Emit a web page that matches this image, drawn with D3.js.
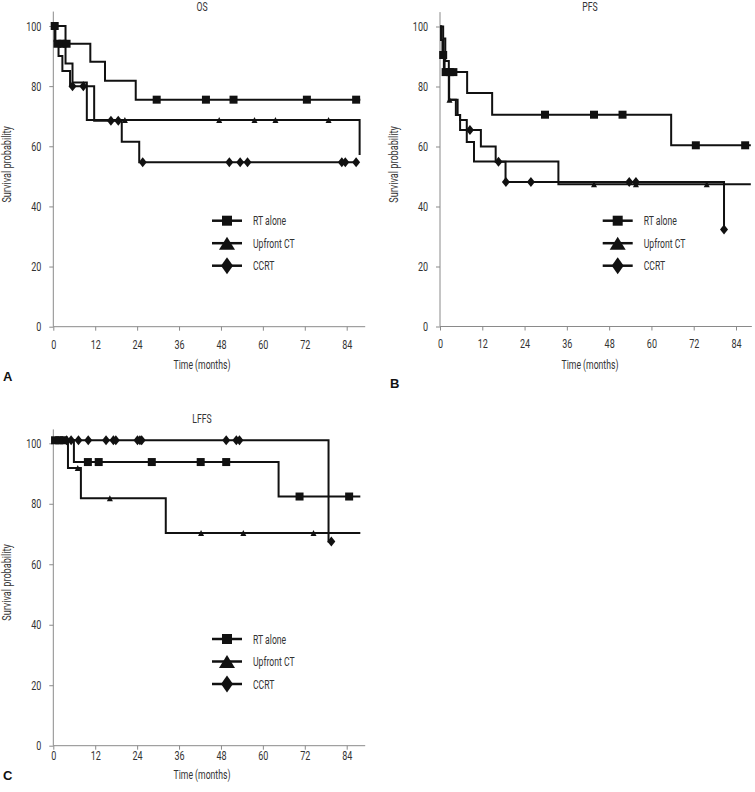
<!DOCTYPE html>
<html>
<head>
<meta charset="utf-8">
<script src="https://cdn.jsdelivr.net/npm/d3@7"></script>
<style>
  body { margin: 0; background: #fff; }
  text { font-family: Roboto, "Liberation Sans", sans-serif; }
</style>
</head>
<body>
<div id="chart"></div>
<script>
// --- data ---
const seriesNames = ["RT alone", "Upfront CT", "CCRT"];
const timeTicks = [0, 12, 24, 36, 48, 60, 72, 84];
const probTicks = [0, 20, 40, 60, 80, 100];

// OS: step points [month, survival %], last month of follow-up, censor times
const osRtSteps = [[0, 100], [0.6, 94.1], [10.6, 88.1], [14.8, 81.8], [23.6, 75.5]];
const osRtEnd = 87.9;
const osRtCensor = [0.4, 1.2, 2.6, 3.8, 29.6, 43.7, 51.6, 72.6, 86.7];
const osCtSteps = [[0, 100], [3.5, 87.5], [5.5, 81.2], [9.6, 68.7], [87.7, 57.1]];
const osCtEnd = 87.7;
const osCtCensor = [20.5, 47.5, 57.6, 63.6, 78.8];
const osCcrtSteps = [[0, 100], [0.4, 95], [1.5, 90], [2.6, 85], [4.8, 80], [11.7, 68.5], [19.6, 61.5], [24.6, 54.7]];
const osCcrtEnd = 86.7;
const osCcrtCensor = [5.5, 8.6, 16.5, 18.6, 25.6, 50.4, 53.5, 55.6, 82.6, 83.6, 86.7];

// PFS
const pfsRtSteps = [[0, 100], [0.4, 95.5], [0.7, 90.5], [1.1, 84.8], [7.7, 77.8], [14.8, 70.6], [65.6, 60.4]];
const pfsRtEnd = 88.2;
const pfsRtCensor = [0.9, 1.6, 2.8, 3.8, 29.8, 43.7, 51.8, 72.6, 86.6];
const pfsCtSteps = [[0, 100], [0.9, 96], [1.5, 88.5], [2.5, 75.6], [4.5, 70.5], [5.7, 68.8], [7.6, 61.5], [9.65, 55], [33.6, 47.4]];
const pfsCtEnd = 88.2;
const pfsCtCensor = [2.7, 43.7, 55.6, 75.7];
const pfsCcrtSteps = [[0, 100], [0.3, 95.5], [1.0, 90.5], [1.3, 84.8], [2.6, 75.6], [5.0, 70.5], [5.7, 65.5], [11.6, 60.0], [15.8, 54.9], [18.6, 48.2], [80.6, 32.3]];
const pfsCcrtEnd = 80.6;
const pfsCcrtCensor = [8.5, 16.6, 18.7, 25.8, 53.7, 55.6, 80.6];

// LFFS
const lffsRtSteps = [[0, 101], [5.9, 93.8], [64.5, 82.4]];
const lffsRtEnd = 87.9;
const lffsRtCensor = [0.5, 1.7, 2.9, 9.9, 13.0, 28.2, 42.2, 49.5, 70.5, 84.7];
const lffsCtSteps = [[0, 101], [4.2, 91.8], [7.9, 81.8], [32.2, 70.3]];
const lffsCtEnd = 87.9;
const lffsCtCensor = [7.0, 16.2, 42.3, 54.4, 74.5];
const lffsCcrtSteps = [[0, 101], [78.8, 67.5]];
const lffsCcrtEnd = 79.6;
const lffsCcrtCensor = [3.8, 5.1, 7.2, 10.0, 15.1, 17.2, 17.9, 24.1, 24.8, 25.3, 49.5, 52.4, 53.3, 79.6];

// --- layout ---
const panels = [
  { title: "OS", letter: "A", x0: 53.3, x84: 346.7, xEnd: 89.3, y0: 326.7, y100: 26, yTop: 104.8,
    legendX: 212, legendY: 220.7, labelX: 7, letterX: 3, letterY: 381, titleY: 11, xTitleOff: 42.5, xPad: 9,
    series: [[osRtSteps, osRtEnd, osRtCensor], [osCtSteps, osCtEnd, osCtCensor], [osCcrtSteps, osCcrtEnd, osCcrtCensor]] },
  { title: "PFS", letter: "B", x0: 440, x84: 736, xEnd: 88.5, y0: 326.5, y100: 26.5, yTop: 104.8,
    legendX: 602.7, legendY: 220.7, labelX: 394, letterX: 390, letterY: 388, titleY: 11, xTitleOff: 42.5, xPad: 9,
    series: [[pfsRtSteps, pfsRtEnd, pfsRtCensor], [pfsCtSteps, pfsCtEnd, pfsCtCensor], [pfsCcrtSteps, pfsCcrtEnd, pfsCcrtCensor]] },
  { title: "LFFS", letter: "C", x0: 53.3, x84: 346.7, xEnd: 89.3, y0: 745.7, y100: 443.3, yTop: 104.6,
    legendX: 212, legendY: 639, labelX: 7, letterX: 3, letterY: 780, titleY: 423, xTitleOff: 33.5, xPad: 1,
    series: [[lffsRtSteps, lffsRtEnd, lffsRtCensor], [lffsCtSteps, lffsCtEnd, lffsCtCensor], [lffsCcrtSteps, lffsCcrtEnd, lffsCcrtCensor]] }
];

const svg = d3.select("#chart").append("svg")
  .attr("width", 755).attr("height", 792);

// squeeze text horizontally to mimic the narrow font of the original
function condense(sel, k) {
  sel.each(function () {
    const w = this.getComputedTextLength();
    d3.select(this).attr("textLength", w * k).attr("lengthAdjust", "spacingAndGlyphs");
  });
}

function marker(g, type, cx, cy, w, h) {
  let d;
  if (type === 0) d = `M${cx - w / 2},${cy - h / 2}h${w}v${h}h${-w}Z`;
  else if (type === 1) d = `M${cx},${cy - h / 2}L${cx + w / 2},${cy + h / 2}L${cx - w / 2},${cy + h / 2}Z`;
  else d = `M${cx},${cy - h / 2}L${cx + w / 2},${cy}L${cx},${cy + h / 2}L${cx - w / 2},${cy}Z`;
  g.append("path").attr("d", d).attr("fill", "#111");
}

function survAt(steps, t) {
  let s = steps[0][1];
  for (const p of steps) if (p[0] <= t) s = p[1];
  return s;
}

panels.forEach(p => {
  const x = d3.scaleLinear().domain([0, 84]).range([p.x0, p.x84]);
  const y = d3.scaleLinear().domain([0, 100]).range([p.y0, p.y100]);
  const g = svg.append("g");

  // axes
  const xAxis = g.append("g").attr("transform", `translate(0,${p.y0})`)
    .call(d3.axisBottom(x).tickValues(timeTicks).tickSize(4).tickSizeOuter(0).tickPadding(p.xPad));
  xAxis.select(".domain").attr("d", `M${x(0)},0H${x(p.xEnd)}`);
  const yAxis = g.append("g").attr("transform", `translate(${p.x0},0)`)
    .call(d3.axisLeft(y).tickValues(probTicks).tickSize(4).tickSizeOuter(0).tickPadding(8));
  yAxis.select(".domain").attr("d", `M0,${y(0)}V${y(p.yTop)}`);
  g.selectAll(".domain, .tick line").attr("stroke", "#8a8a8a");
  const tickText = g.selectAll(".tick text").attr("fill", "#333")
    .style("font-size", "12.5px").style("font-family", "Roboto, sans-serif");
  condense(tickText, 0.72);

  // titles
  const cx = (p.x0 + p.x84) / 2 + 2;
  const t1 = g.append("text").attr("x", cx).attr("y", p.titleY)
    .attr("text-anchor", "middle").attr("font-size", 12).attr("fill", "#333").text(p.title);
  const t2 = g.append("text").attr("x", cx).attr("y", p.y0 + p.xTitleOff)
    .attr("text-anchor", "middle").attr("font-size", 12).attr("fill", "#333").text("Time (months)");
  const t3 = g.append("text").attr("transform", `translate(${p.labelX + 4},${(p.y0 + p.y100) / 2 - 12}) rotate(-90)`)
    .attr("text-anchor", "middle").attr("font-size", 12).attr("fill", "#333").text("Survival probability");
  condense(t1, 0.72);
  condense(t2, 0.72);
  condense(t3, 0.76);
  g.append("text").attr("x", p.letterX).attr("y", p.letterY)
    .attr("font-size", 13).attr("font-weight", "bold").attr("fill", "#111")
    .style("font-family", "'Liberation Sans', Arial, sans-serif").text(p.letter);

  // curves
  const line = d3.line().x(d => x(d[0])).y(d => y(d[1])).curve(d3.curveStepAfter);
  p.series.forEach(([steps, end]) => {
    const pts = steps.concat([[end, steps[steps.length - 1][1]]]);
    g.append("path").attr("d", line(pts)).attr("fill", "none")
      .attr("stroke", "#111").attr("stroke-width", 2);
  });
  p.series.forEach(([steps, end, censor], i) => {
    const size = [[8, 8], [6, 6], [8, 10]][i];
    censor.forEach(t => marker(g, i, x(t), y(survAt(steps, t)), size[0], size[1]));
  });

  // legend
  seriesNames.forEach((name, i) => {
    const ly = p.legendY + i * 22.5;
    g.append("line").attr("x1", p.legendX).attr("x2", p.legendX + 30)
      .attr("y1", ly).attr("y2", ly).attr("stroke", "#111").attr("stroke-width", 2.5);
    const size = [[10, 10], [16, 13], [12, 17]][i];
    marker(g, i, p.legendX + 15, ly, size[0], size[1]);
    const lt = g.append("text").attr("x", p.legendX + 41).attr("y", ly + 4.5)
      .attr("font-size", 12).attr("fill", "#333").text(name);
    condense(lt, 0.72);
  });
});
</script>
</body>
</html>
